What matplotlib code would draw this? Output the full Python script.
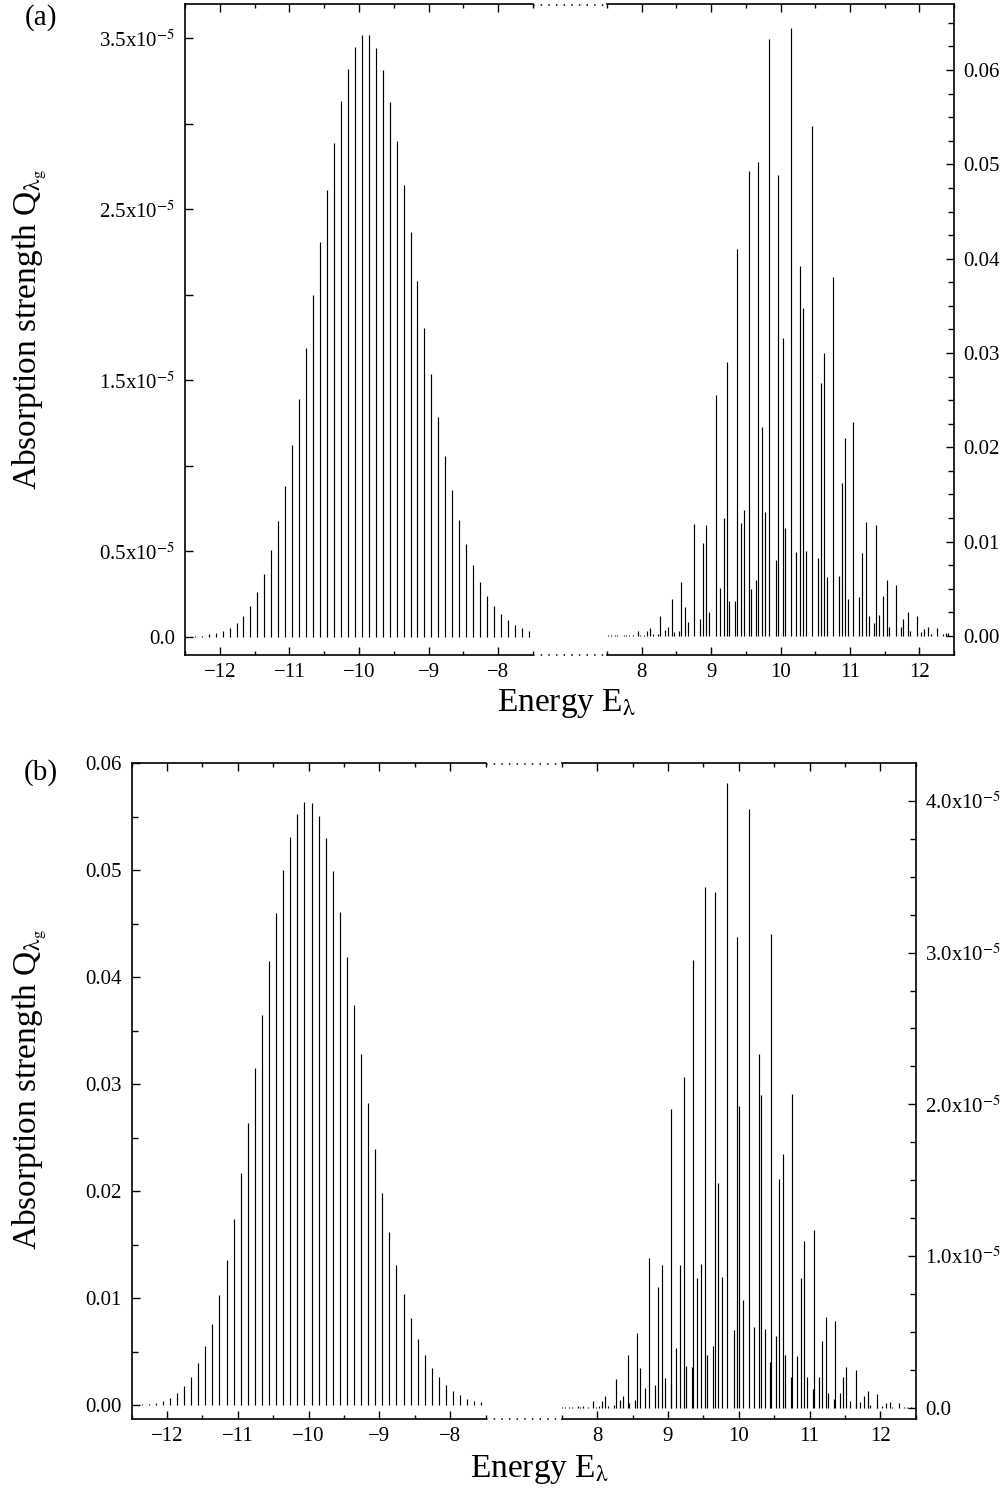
import matplotlib
matplotlib.use("Agg")
import matplotlib.pyplot as plt
from matplotlib.ticker import MultipleLocator, FixedLocator, FixedFormatter
from matplotlib.lines import Line2D

plt.rcParams['font.family'] = ['Liberation Serif', 'DejaVu Serif']
plt.rcParams['mathtext.fontset'] = 'stix'

# ---------------- data ----------------
E_left = [-12.36, -12.26, -12.16, -12.06, -11.96, -11.86, -11.76, -11.66, -11.56, -11.46,
          -11.36, -11.26, -11.16, -11.06, -10.96, -10.86, -10.76, -10.66, -10.56, -10.46,
          -10.36, -10.26, -10.16, -10.06, -9.96, -9.86, -9.76, -9.66, -9.56, -9.46,
          -9.36, -9.26, -9.16, -9.06, -8.96, -8.86, -8.76, -8.66, -8.56, -8.46,
          -8.36, -8.26, -8.16, -8.06, -7.96, -7.86, -7.76, -7.66, -7.56]

# panel (a), left peak, in units of 1e-5
Qa_left = [0.004, 0.006, 0.016, 0.023, 0.033, 0.053, 0.080, 0.121, 0.179, 0.261,
           0.368, 0.507, 0.678, 0.883, 1.121, 1.390, 1.686, 1.998, 2.308, 2.610,
           2.889, 3.131, 3.320, 3.450, 3.520, 3.516, 3.444, 3.314, 3.129, 2.899,
           2.643, 2.366, 2.080, 1.803, 1.534, 1.283, 1.057, 0.858, 0.684, 0.540,
           0.419, 0.320, 0.240, 0.179, 0.133, 0.096, 0.068, 0.049, 0.035]

# panel (a), right spectrum
Ea_right = [7.52, 7.56, 7.62, 7.65, 7.74, 7.77, 7.81, 7.88, 7.94, 7.98,
            8.04, 8.08, 8.12, 8.17, 8.24, 8.26, 8.33, 8.38, 8.43, 8.46,
            8.54, 8.57, 8.62, 8.67, 8.75, 8.84, 8.88, 8.93, 8.97, 9.07,
            9.13, 9.18, 9.23, 9.26, 9.34, 9.37, 9.43, 9.48, 9.54, 9.57,
            9.64, 9.68, 9.73, 9.78, 9.84, 9.94, 9.97, 10.03, 10.07, 10.15,
            10.23, 10.28, 10.32, 10.37, 10.45, 10.54, 10.59, 10.63, 10.67, 10.75,
            10.84, 10.88, 10.93, 10.97, 11.05, 11.13, 11.17, 11.23, 11.27, 11.35,
            11.37, 11.42, 11.48, 11.53, 11.57, 11.66, 11.73, 11.77, 11.83, 11.87,
            11.96, 12.03, 12.07, 12.13, 12.17, 12.25, 12.34, 12.38, 12.42]
Qa_right = [0.0001, 0.0001, 0.0001, 0.0001, 0.0001, 0.0001, 0.0001, 0.0001, 0.0005, 0.0001,
            0.0001, 0.0005, 0.0008, 0.0002, 0.0002, 0.0021, 0.0006, 0.0009, 0.0039, 0.0004,
            0.0005, 0.0057, 0.0031, 0.0015, 0.0119, 0.0018, 0.0099, 0.0118, 0.0025, 0.0255,
            0.0051, 0.0125, 0.0290, 0.0037, 0.0037, 0.0410, 0.0120, 0.0134, 0.0493, 0.0050,
            0.0059, 0.0503, 0.0221, 0.0131, 0.0633, 0.0080, 0.0489, 0.0316, 0.0114, 0.0645,
            0.0089, 0.0392, 0.0348, 0.0090, 0.0541, 0.0083, 0.0268, 0.0300, 0.0063, 0.0381,
            0.0064, 0.0162, 0.0210, 0.0039, 0.0227, 0.0041, 0.0088, 0.0121, 0.0021, 0.0014,
            0.0118, 0.0022, 0.0042, 0.0059, 0.0010, 0.0054, 0.0010, 0.0018, 0.0025, 0.0005,
            0.0021, 0.0004, 0.0007, 0.0009, 0.0002, 0.0008, 0.0002, 0.0003, 0.0003]

# panel (b), left peak
Qb_left = [0.0001, 0.0001, 0.0002, 0.0004, 0.0007, 0.0011, 0.0018, 0.0026, 0.0039, 0.0055,
           0.0076, 0.0103, 0.0136, 0.0174, 0.0217, 0.0264, 0.0315, 0.0365, 0.0415, 0.0460,
           0.0500, 0.0531, 0.0553, 0.0564, 0.0563, 0.0551, 0.0530, 0.0499, 0.0461, 0.0419,
           0.0374, 0.0328, 0.0282, 0.0239, 0.0198, 0.0162, 0.0131, 0.0104, 0.0081, 0.0062,
           0.0047, 0.0035, 0.0026, 0.0019, 0.0013, 0.0009, 0.0006, 0.0004, 0.0003]

# panel (b), right spectrum, in units of 1e-5
Eb_right = [7.51, 7.55, 7.61, 7.65, 7.73, 7.76, 7.80, 7.87, 7.94, 7.98,
            8.02, 8.07, 8.11, 8.16, 8.24, 8.26, 8.32, 8.37, 8.43, 8.45,
            8.53, 8.57, 8.61, 8.67, 8.74, 8.82, 8.86, 8.92, 8.96, 9.04,
            9.05, 9.12, 9.17, 9.23, 9.25, 9.34, 9.36, 9.41, 9.47, 9.53,
            9.55, 9.63, 9.66, 9.71, 9.77, 9.84, 9.93, 9.97, 10.01, 10.06,
            10.14, 10.22, 10.28, 10.32, 10.37, 10.44, 10.45, 10.53, 10.57, 10.63,
            10.66, 10.74, 10.75, 10.83, 10.88, 10.92, 10.96, 11.05, 11.06, 11.13,
            11.17, 11.23, 11.26, 11.35, 11.36, 11.43, 11.47, 11.52, 11.57, 11.65,
            11.66, 11.72, 11.77, 11.83, 11.86, 11.95, 11.96, 12.03, 12.08, 12.13,
            12.17, 12.26, 12.34, 12.38, 12.43]
Qb_right = [0.004, 0.004, 0.007, 0.004, 0.010, 0.004, 0.010, 0.004, 0.046, 0.005,
            0.010, 0.044, 0.079, 0.010, 0.015, 0.190, 0.053, 0.079, 0.350, 0.033,
            0.048, 0.490, 0.260, 0.127, 0.989, 0.147, 0.796, 0.943, 0.196, 0.154,
            1.970, 0.391, 0.938, 2.180, 0.277, 0.268, 2.950, 0.853, 0.949, 3.430,
            0.347, 0.404, 3.400, 1.480, 0.864, 4.120, 0.510, 3.100, 1.990, 0.710,
            3.950, 0.530, 2.330, 2.060, 0.520, 0.300, 3.120, 0.470, 1.505, 1.670,
            0.345, 0.200, 2.070, 0.340, 0.857, 1.100, 0.200, 0.120, 1.170, 0.200,
            0.437, 0.600, 0.100, 0.060, 0.570, 0.100, 0.200, 0.270, 0.046, 0.026,
            0.246, 0.040, 0.080, 0.108, 0.018, 0.013, 0.090, 0.013, 0.029, 0.037,
            0.003, 0.029, 0.003, 0.007, 0.003]

# tick labels
a_left_ticks = [0.0, 0.5, 1.0, 1.5, 2.0, 2.5, 3.0, 3.5]
a_left_labels = ['0.0', r'0.5x10$^{-5}$', '', r'1.5x10$^{-5}$', '', r'2.5x10$^{-5}$', '', r'3.5x10$^{-5}$']
a_right_ticks = [0.00, 0.01, 0.02, 0.03, 0.04, 0.05, 0.06]
a_right_labels = ['0.00', '0.01', '0.02', '0.03', '0.04', '0.05', '0.06']
b_left_ticks = [0.00, 0.01, 0.02, 0.03, 0.04, 0.05, 0.06]
b_left_labels = ['0.00', '0.01', '0.02', '0.03', '0.04', '0.05', '0.06']
b_right_ticks = [0.0, 1.0, 2.0, 3.0, 4.0]
b_right_labels = ['0.0', r'1.0x10$^{-5}$', r'2.0x10$^{-5}$', r'3.0x10$^{-5}$', r'4.0x10$^{-5}$']

# ---------------- figure ----------------
W, H = 1008, 1496
fig = plt.figure(figsize=(W / 100, H / 100), dpi=100)

LW = 0.85
SPINE = 1.2
TICKFS = 15
LABELFS = 24


def rect(x0, x1, y0, y1):
    return [x0 / W, 1 - y1 / H, (x1 - x0) / W, (y1 - y0) / H]


def style_common(ax, xlim):
    ax.set_xlim(*xlim)
    ax.xaxis.set_major_locator(MultipleLocator(1))
    ax.xaxis.set_minor_locator(MultipleLocator(0.5))
    ax.tick_params(axis='x', which='both', direction='in', top=True, bottom=True,
                   labelsize=TICKFS, pad=6, width=1)
    ax.tick_params(axis='x', which='major', length=6)
    ax.tick_params(axis='x', which='minor', length=3)
    for s in ax.spines.values():
        s.set_linewidth(SPINE)


def left_axes(r, ylim):
    ax = fig.add_axes(r)
    style_common(ax, (-12.5, -7.5))
    ax.set_ylim(*ylim)
    ax.spines['right'].set_visible(False)
    ax.tick_params(axis='y', which='both', direction='in', left=True, right=False,
                   labelleft=True, labelright=False, labelsize=TICKFS, pad=7, width=1)
    ax.tick_params(axis='y', which='major', length=6)
    ax.tick_params(axis='y', which='minor', length=4)
    return ax


def right_axes(r, ylim):
    ax = fig.add_axes(r)
    style_common(ax, (7.5, 12.5))
    ax.set_ylim(*ylim)
    ax.spines['left'].set_visible(False)
    ax.tick_params(axis='y', which='both', direction='in', left=False, right=True,
                   labelleft=False, labelright=True, labelsize=TICKFS, pad=7, width=1)
    ax.tick_params(axis='y', which='major', length=6)
    ax.tick_params(axis='y', which='minor', length=4.5)
    return ax


def connector(x0, x1, y):
    for yy in y:
        fig.add_artist(Line2D([x0 / W, x1 / W], [1 - yy / H, 1 - yy / H],
                              transform=fig.transFigure, color='black',
                              lw=1.1, ls=(0, (1, 4))))


YLABEL = r'Absorption strength Q$_{\mathrm{\lambda}_{\mathrm{g}}}$'
XLABEL = r'Energy E$_{\mathrm{\lambda}}$'

# ---- panel (a) ----
axL = left_axes(rect(185, 533, 4, 655), (-0.107, 3.70))
axL.vlines(E_left, 0, Qa_left, colors='black', lw=LW)
axL.yaxis.set_major_locator(FixedLocator(a_left_ticks))
axL.yaxis.set_major_formatter(FixedFormatter(a_left_labels))

axR = right_axes(rect(607, 954, 4, 655), (-0.00202, 0.0670))
axR.vlines(Ea_right, 0, Qa_right, colors='black', lw=LW)
axR.yaxis.set_major_locator(FixedLocator(a_right_ticks))
axR.yaxis.set_major_formatter(FixedFormatter(a_right_labels))
axR.yaxis.set_minor_locator(MultipleLocator(0.0025))

connector(533, 607, [4.5, 655])

fig.text(41 / W, 1 - 18 / H, '(a)', fontsize=21, ha='center', va='center')
fig.text(30 / W, 1 - 330 / H, YLABEL, fontsize=LABELFS, rotation=90, ha='center', va='center')
fig.text(567 / W, 1 - 703 / H, XLABEL, fontsize=LABELFS, ha='center', va='center')

# ---- panel (b) ----
bxL = left_axes(rect(131.7, 485.7, 763.3, 1419), (-0.0013, 0.06))
bxL.vlines(E_left, 0, Qb_left, colors='black', lw=LW)
bxL.yaxis.set_major_locator(FixedLocator(b_left_ticks))
bxL.yaxis.set_major_formatter(FixedFormatter(b_left_labels))
bxL.yaxis.set_minor_locator(MultipleLocator(0.005))

bxR = right_axes(rect(561.7, 915.7, 763.3, 1419), (-0.0745, 4.248))
bxR.vlines(Eb_right, 0, Qb_right, colors='black', lw=LW)
bxR.yaxis.set_major_locator(FixedLocator(b_right_ticks))
bxR.yaxis.set_major_formatter(FixedFormatter(b_right_labels))
bxR.yaxis.set_minor_locator(MultipleLocator(0.25))

connector(485.7, 561.7, [763.8, 1419])

fig.text(41 / W, 1 - 773 / H, '(b)', fontsize=21, ha='center', va='center')
fig.text(30 / W, 1 - 1090 / H, YLABEL, fontsize=LABELFS, rotation=90, ha='center', va='center')
fig.text(540 / W, 1 - 1470 / H, XLABEL, fontsize=LABELFS, ha='center', va='center')

fig.savefig('out.png', dpi=100)
